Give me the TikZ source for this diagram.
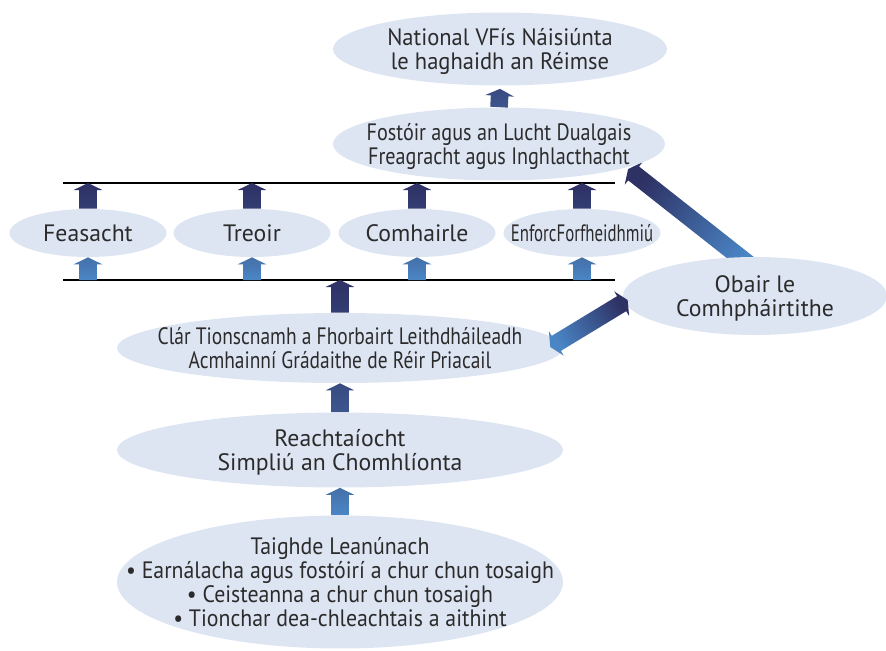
\documentclass[tikz,border=0pt]{standalone}
\usepackage{fontspec}
\setmainfont{PT Sans}
\usepackage{graphicx}
\usepackage{xcolor}
\usetikzlibrary{shapes.geometric,calc,backgrounds}

\definecolor{bubblefill}{HTML}{DDE5F3}
\definecolor{ink}{HTML}{2B2B2B}
\definecolor{navy}{HTML}{2E3164}
\definecolor{midnavy}{HTML}{394A80}
\definecolor{steel}{HTML}{4570A8}
\definecolor{sky}{HTML}{4A86C6}

\newcommand\inbubble[2][1]{\makebox[0pt]{\raisebox{-5.7pt}[0pt][0pt]{\scalebox{#1}[1]{\begin{tabular}{@{}c@{}}#2\end{tabular}}}}}

\newcommand\fatarrow[3][]{%
  \shade[#1] let \p1=(#2), \p2=(#3),
    \n1={veclen(\x2-\x1,\y2-\y1)}, \n2={atan2(\y2-\y1,\x2-\x1)} in
    {[shift={(\p1)}, rotate=\n2]
      (0pt,-5pt) -- ({\n1-4pt},-5pt) -- ({\n1-4pt},-8.2pt) -- (\n1,0pt)
      -- ({\n1-4pt},8.2pt) -- ({\n1-4pt},5pt) -- (0pt,5pt) -- cycle};}

\newcommand\fatarrows[3][]{%
  \shade[#1] let \p1=(#2), \p2=(#3),
    \n1={veclen(\x2-\x1,\y2-\y1)}, \n2={atan2(\y2-\y1,\x2-\x1)} in
    {[shift={(\p1)}, rotate=\n2]
      (4pt,-5pt) -- ({\n1-4pt},-5pt) -- ({\n1-4pt},-8.2pt) -- (\n1,0pt)
      -- ({\n1-4pt},8.2pt) -- ({\n1-4pt},5pt) -- (4pt,5pt) -- (4pt,8.2pt)
      -- (0pt,0pt) -- (4pt,-8.2pt) -- cycle};}

\tikzset{
  bubble/.style={ellipse, fill=bubblefill, text=ink, inner sep=0pt,
    font=\fontsize{13.5}{13.3}\selectfont},
  rowbubble/.style={bubble, minimum width=3.14cm, minimum height=0.96cm},
  widebubble/.style={bubble, minimum width=8.92cm},
  bar/.style={black, line width=0.6pt},
  navyup/.style={top color=navy, bottom color=navy!80!steel},
  midup/.style={top color=midnavy, bottom color=midnavy!80!sky},
  skyup/.style={top color=steel, bottom color=sky}
}

\begin{document}
\begin{tikzpicture}[x=0.02cm, y=-0.02cm]
  \useasboundingbox (0,0) rectangle (886,650);
  \node[bubble, minimum width=6.68cm, minimum height=1.46cm] (nat) at (500,49)
    {\inbubble[0.95]{National VFís Náisiúnta\\le haghaidh an Réimse}};
  \node[bubble, minimum width=6.64cm, minimum height=1.46cm] (fost) at (499,144)
    {\inbubble[0.85]{Fostóir agus an Lucht Dualgais\\Freagracht agus Inghlacthacht}};
  \node[rowbubble] (feas) at (88,233) {\inbubble{Feasacht}};
  \node[rowbubble] (treo) at (252,233) {\inbubble{Treoir}};
  \node[rowbubble] (comh) at (417,233) {\inbubble{Comhairle}};
  \node[rowbubble] (enfo) at (582,233) {\inbubble[0.71]{EnforcForfheidhmiú}};
  \node[widebubble, minimum height=1.40cm] (clar) at (340,348)
    {\inbubble[0.82]{Clár Tionscnamh a Fhorbairt Leithdháileadh\\Acmhainní Grádaithe de Réir Priacail}};
  \node[widebubble, minimum height=1.50cm] (reach) at (340,450)
    {\inbubble{Reachtaíocht\\Simpliú an Chomhlíonta}};
  \node[widebubble, minimum height=2.66cm] (taig) at (340,582)
    {\inbubble[0.92]{Taighde Leanúnach\\• Earnálacha agus fostóirí a chur chun tosaigh\\• Ceisteanna a chur chun tosaigh\\• Tionchar dea-chleachtais a aithint}};
  \node[bubble, minimum width=5.28cm, minimum height=1.56cm] (obair) at (755,296)
    {\inbubble{Obair le\\Comhpháirtithe}};

  \coordinate (upL) at (63,183);
  \coordinate (upR) at (615,183);
  \coordinate (lowL) at (63,280);
  \coordinate (lowR) at (615,280);
  \draw[bar] (upL) -- (upR);
  \draw[bar] (lowL) -- (lowR);

  \foreach \bub in {feas,treo,comh,enfo}{
    \fatarrow[navyup]{\bub.north}{\bub.north |- upL}
    \fatarrow[skyup]{\bub.south |- lowL}{\bub.south}
  }
  \fatarrow[navyup]{clar.north}{clar.north |- lowL}
  \fatarrow[midup]{reach.north}{clar.south}
  \fatarrow[skyup]{taig.north}{reach.south}
  \fatarrow[midup]{fost.north}{[shift={(0,3)}]nat.south}

  \begin{scope}[on background layer]
    \fatarrow[bottom color=sky, top color=navy, shading angle=52]{[shift={(2,14)}]obair.north}{[shift={(129,25)}]fost.center}
  \end{scope}
  \fatarrows[bottom color=sky, top color=navy, shading angle=-59]{[shift={(-13,-1)}]clar.east}{[shift={(5,4)}]obair.west}
\end{tikzpicture}
\end{document}
